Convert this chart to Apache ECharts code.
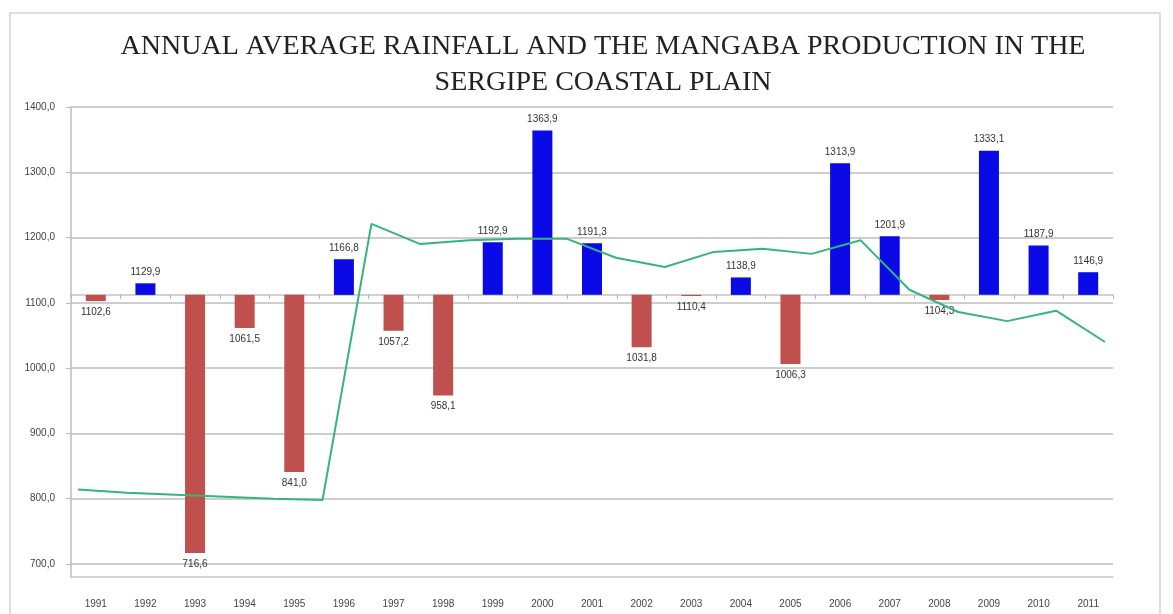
<!DOCTYPE html>
<html>
<head>
<meta charset="utf-8">
<script src="https://cdn.jsdelivr.net/npm/echarts@6/dist/echarts.min.js"></script>
<style>
  html, body { margin: 0; padding: 0; background: #fff; }
  #chart { width: 1173px; height: 614px; }
</style>
</head>
<body>
<div id="chart"></div>
<script>
// rainfall per year, bars hang from the long-term average
const years = ['1991', '1992', '1993', '1994', '1995', '1996', '1997', '1998', '1999', '2000', '2001',
  '2002', '2003', '2004', '2005', '2006', '2007', '2008', '2009', '2010', '2011'];
const rainfall = [1102.6, 1129.9, 716.6, 1061.5, 841.0, 1166.8, 1057.2, 958.1, 1192.9, 1363.9, 1191.3,
  1031.8, 1110.4, 1138.9, 1006.3, 1313.9, 1201.9, 1104.3, 1333.1, 1187.9, 1146.9];
const baseline = 1112.2;

// green production line (22 points, own spacing in the source image)
const lineSlots = ['p1', 'p2', 'p3', 'p4', 'p5', 'p6', 'p7', 'p8', 'p9', 'p10', 'p11',
  'p12', 'p13', 'p14', 'p15', 'p16', 'p17', 'p18', 'p19', 'p20', 'p21', 'p22'];
const production = [814, 809, 806, 803, 800, 798, 1221, 1190, 1196, 1198, 1198,
  1169, 1155, 1178, 1183, 1175, 1196, 1120, 1086, 1072, 1088, 1040];

const yTicks = [700, 800, 900, 1000, 1100, 1200, 1300, 1400];
const yMin = 680, yMax = 1400;

const chart = echarts.init(document.getElementById('chart'));

const fmt = v => v.toFixed(1).replace('.', ',');

const option = {
  animation: false,
  title: {
    text: 'ANNUAL AVERAGE RAINFALL AND THE MANGABA PRODUCTION IN THE\nSERGIPE COASTAL PLAIN',
    left: 598,
    textAlign: 'center',
    top: 24,
    textStyle: {
      fontFamily: 'Liberation Serif',
      fontSize: 28,
      fontWeight: 'normal',
      color: '#222',
      lineHeight: 36
    }
  },
  graphic: [{
    type: 'rect',
    shape: { x: 10, y: 13, width: 1150, height: 640 },
    style: { fill: 'none', stroke: '#d4d4d4', lineWidth: 1.5 },
    silent: true
  }],
  grid: [
    { left: 71, right: 60, top: 107, bottom: 37 },
    { left: 78, right: 68, top: 107, bottom: 37 }
  ],
  xAxis: [
    {
      type: 'category', gridIndex: 0, data: years, position: 'bottom',
      axisLine: { onZero: false, lineStyle: { color: '#c8c8c8', width: 1.5 } },
      axisTick: { show: false },
      axisLabel: { margin: 22, fontSize: 10, color: '#444', fontFamily: 'Liberation Sans' }
    },
    {
      type: 'category', gridIndex: 0, data: years, position: 'bottom',
      axisLine: { onZero: true, onZeroAxisIndex: 1, lineStyle: { color: '#c4c4c4', width: 1.5 } },
      axisTick: { show: true, length: 4, lineStyle: { color: '#b0b0b0' } },
      axisLabel: { show: false }
    },
    {
      type: 'category', gridIndex: 1, data: lineSlots, boundaryGap: false, show: false
    }
  ],
  yAxis: [
    {
      type: 'value', gridIndex: 0, min: yMin, max: yMax,
      axisLine: { show: true, lineStyle: { color: '#bdbdbd', width: 1.5 } },
      axisTick: { show: true, length: 5, customValues: yTicks, lineStyle: { color: '#bdbdbd' } },
      axisLabel: {
        customValues: yTicks, fontSize: 10, color: '#444', margin: 16,
        fontFamily: 'Liberation Sans', formatter: v => fmt(v)
      },
      splitLine: { show: true, lineStyle: { color: '#bdbdbd', width: 1.5 } }
    },
    {
      type: 'value', gridIndex: 0, min: yMin - baseline, max: yMax - baseline, show: false
    },
    {
      type: 'value', gridIndex: 1, min: yMin, max: yMax, show: false
    }
  ],
  series: [
    {
      type: 'bar',
      xAxisIndex: 0,
      yAxisIndex: 1,
      barWidth: 20,
      data: rainfall.map(v => ({
        value: +(v - baseline).toFixed(1),
        itemStyle: { color: v >= baseline ? '#0a0ae6' : '#c0504d' },
        label: {
          show: true,
          position: v >= baseline ? 'top' : 'bottom',
          distance: 6,
          formatter: fmt(v),
          fontSize: 10,
          color: '#333',
          fontFamily: 'Liberation Sans'
        }
      }))
    },
    {
      type: 'line',
      xAxisIndex: 2,
      yAxisIndex: 2,
      data: production,
      showSymbol: false,
      symbol: 'none',
      lineStyle: { color: '#35b57a', width: 2 },
      z: 5
    }
  ]
};

chart.setOption(option);
</script>
</body>
</html>
